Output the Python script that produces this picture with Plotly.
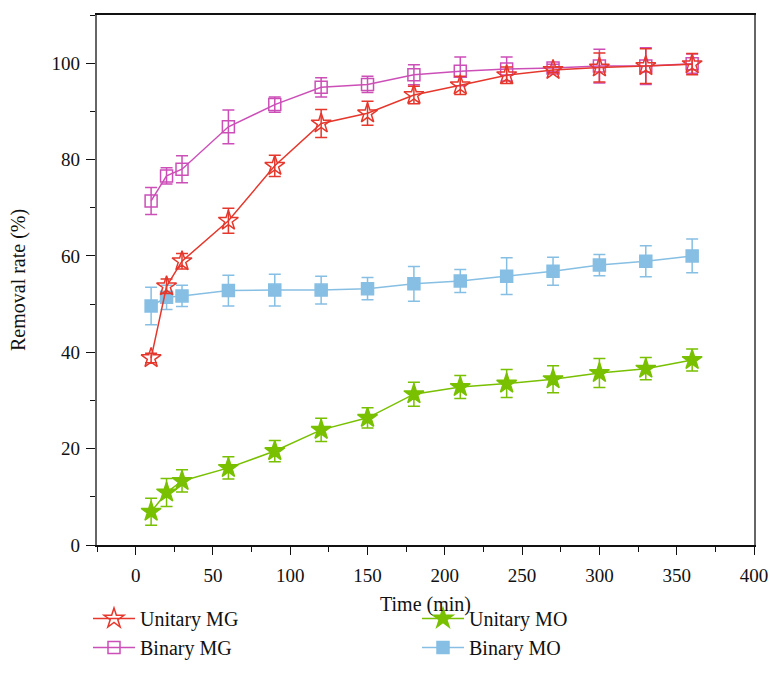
import plotly.graph_objects as go

time = [10, 20, 30, 60, 90, 120, 150, 180, 210, 240, 270, 300, 330, 360]

unitary_mg = [38.8, 53.7, 58.9, 67.3, 78.7, 87.5, 89.6, 93.4, 95.4, 97.5, 98.6, 99.1, 99.4, 99.8]
unitary_mg_err = [1.0, 1.5, 1.6, 2.6, 2.2, 2.9, 2.5, 1.8, 1.9, 1.7, 0.6, 3.0, 3.6, 2.2]

binary_mg = [71.4, 76.6, 78.0, 86.8, 91.4, 95.0, 95.6, 97.6, 98.3, 98.8, 99.0, 99.4, 99.4, 99.9]
binary_mg_err = [2.8, 1.7, 2.8, 3.5, 1.6, 2.0, 1.7, 2.1, 3.0, 2.5, 0.8, 3.5, 3.8, 2.0]

unitary_mo = [6.9, 10.9, 13.3, 16.0, 19.5, 23.9, 26.4, 31.3, 32.8, 33.5, 34.4, 35.7, 36.6, 38.4]
unitary_mo_err = [2.8, 2.9, 2.3, 2.3, 2.2, 2.4, 2.1, 2.5, 2.4, 2.9, 2.8, 3.0, 2.3, 2.3]

binary_mo = [49.6, 51.4, 51.7, 52.8, 52.9, 52.9, 53.2, 54.2, 54.8, 55.8, 56.8, 58.1, 58.9, 60.0]
binary_mo_err = [3.9, 2.5, 2.2, 3.2, 3.3, 2.9, 2.3, 3.6, 2.4, 3.8, 2.9, 2.2, 3.2, 3.5]

x_ticks = [0, 50, 100, 150, 200, 250, 300, 350, 400]
y_ticks = [0, 20, 40, 60, 80, 100]

FONT = "Liberation Serif"

series = [
    ("Unitary MG", unitary_mg, unitary_mg_err, "#e5372c", "star-open", 15, 1, "legend"),
    ("Binary MG", binary_mg, binary_mg_err, "#cc4fb8", "square-open", 12, 2, "legend"),
    ("Unitary MO", unitary_mo, unitary_mo_err, "#78c000", "star", 15, 1, "legend2"),
    ("Binary MO", binary_mo, binary_mo_err, "#86bfe3", "square", 12, 2, "legend2"),
]

fig = go.Figure()
draw_order = [3, 2, 1, 0]
for i in draw_order:
    name, ys, es, col, sym, sz, rank, lg = series[i]
    fig.add_trace(go.Scatter(
        x=time, y=ys, name=name, mode="lines+markers",
        line=dict(color=col, width=1.5),
        marker=dict(symbol=sym, size=sz, color=col,
                    line=dict(color=col, width=1.5)),
        error_y=dict(type="data", array=es, visible=True, color=col,
                     thickness=1.5, width=6),
        legendrank=rank, legend=lg,
    ))

leg_common = dict(xref="container", yref="container", xanchor="left", yanchor="top",
                  y=(683 - 599) / 683, font=dict(family=FONT, size=20),
                  tracegroupgap=0, itemwidth=42, bgcolor="rgba(0,0,0,0)")

fig.update_layout(
    width=770, height=683,
    margin=dict(l=97, r=16, t=15, b=138, autoexpand=False),
    plot_bgcolor="white", paper_bgcolor="white",
    font=dict(family=FONT, size=19, color="#111"),
    showlegend=True,
    legend=dict(x=88 / 770, **leg_common),
    legend2=dict(x=417 / 770, **leg_common),
    annotations=[
        dict(text="Time (min)", xref="paper", yref="paper", x=0.5, y=0,
             xanchor="center", yanchor="middle", yshift=-59, showarrow=False,
             font=dict(family=FONT, size=20)),
        dict(text="Removal rate (%)", xref="paper", yref="paper", x=0, y=0.5,
             xanchor="center", yanchor="middle", xshift=-79, textangle=-90,
             showarrow=False, font=dict(family=FONT, size=20)),
    ],
)

fig.update_xaxes(
    range=[-25, 400], tickvals=x_ticks, ticks="outside", ticklen=8, tickwidth=1.2,
    tickcolor="#111", showline=True, linecolor="#111", linewidth=1.5, mirror=True,
    showgrid=False, zeroline=False, ticklabelstandoff=4,
    minor=dict(dtick=25, tick0=0, ticks="outside", ticklen=5, tickwidth=1.2, tickcolor="#111"),
    tickfont=dict(family=FONT, size=19),
)
fig.update_yaxes(
    range=[0, 110], tickvals=y_ticks, ticks="outside", ticklen=9, tickwidth=1.2,
    tickcolor="#111", showline=True, linecolor="#666", linewidth=2.2, mirror=True,
    showgrid=False, zeroline=False, ticklabelstandoff=2,
    minor=dict(dtick=10, tick0=0, ticks="outside", ticklen=5, tickwidth=1.2, tickcolor="#111"),
    tickfont=dict(family=FONT, size=19),
)

fig.write_html("out.html")
